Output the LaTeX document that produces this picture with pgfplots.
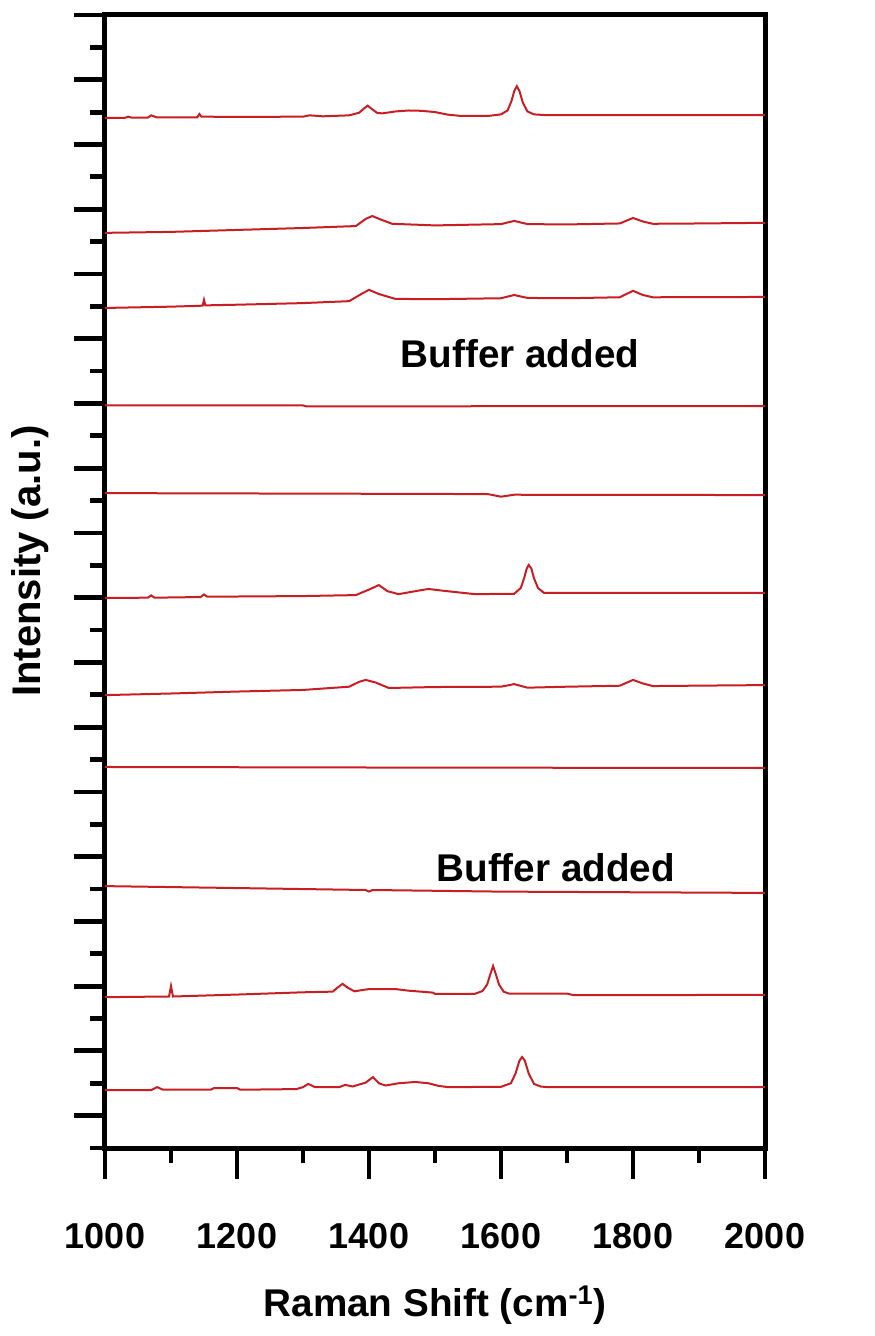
\documentclass[border=0pt]{standalone}
\usepackage{pgfplots}
\pgfplotsset{compat=1.18}
\usepackage{fontspec}
\setmainfont{Liberation Sans}
\definecolor{spec}{RGB}{200,30,35}
\begin{document}
\begin{tikzpicture}[x=1pt,y=1pt]
\path (-78.75,-141) rectangle (577.5,861);
\begin{axis}[
 at={(0,0)}, anchor=south west,
 scale only axis, width=495pt, height=849.75pt,
 xmin=1000,xmax=2000,ymin=0,ymax=35,
 xtick={1000,1200,...,2000}, minor xtick={1100,1300,...,1900},
 ytick={1,3,...,35}, minor ytick={0,2,...,34}, yticklabels={},
 tick pos=left, tick align=outside,
 major tick length=23pt, minor tick length=11pt,
 every tick/.style={black, line width=3.6pt},
 axis line style={line width=3.75pt, line cap=rect},
 /pgf/number format/assume math mode=true,
 /pgf/number format/1000 sep={},
 xticklabel style={font=\bfseries\fontsize{27}{32}\selectfont, yshift=-30pt},
 xlabel={Raman Shift (cm\textsuperscript{-1})},
 ylabel={Intensity (a.u.)},
 every axis x label/.style={at={(axis description cs:0.5,-0.139)}, anchor=center, font=\bfseries\fontsize{29}{34}\selectfont},
 every axis y label/.style={at={(axis description cs:-0.113,0.518)}, anchor=center, rotate=90, font=\bfseries\fontsize{30}{35}\selectfont},
 clip=true,
]
% 240 min
\addplot[spec, line width=1.5pt] coordinates {
(1000,31.82)(1030,31.82)(1035,31.86)(1040,31.83)(1065,31.83)(1070,31.9)(1078,31.84)(1140,31.84)(1143,31.94)(1146,31.86)(1200,31.85)(1300,31.86)(1310,31.9)(1330,31.87)(1370,31.9)(1385,31.98)(1393,32.12)(1398,32.2)(1404,32.1)(1412,31.98)(1420,31.96)(1440,32.02)(1460,32.05)(1480,32.04)(1500,32.0)(1520,31.92)(1540,31.88)(1580,31.88)(1600,31.93)(1610,32.05)(1616,32.35)(1620,32.65)(1624,32.8)(1628,32.65)(1633,32.3)(1640,32.02)(1650,31.93)(1665,31.91)(2000,31.91)};
% 220 min
\addplot[spec, line width=1.5pt] coordinates {
(1000,28.27)(1100,28.3)(1200,28.36)(1300,28.42)(1380,28.48)(1395,28.7)(1405,28.79)(1418,28.68)(1435,28.55)(1500,28.5)(1600,28.54)(1620,28.64)(1640,28.54)(1700,28.53)(1780,28.56)(1800,28.73)(1815,28.62)(1830,28.55)(1900,28.56)(2000,28.58)};
% 200 min
\addplot[spec, line width=1.5pt] coordinates {
(1000,25.95)(1100,25.99)(1148,26.02)(1150,26.2)(1152,26.03)(1200,26.05)(1300,26.1)(1370,26.16)(1390,26.4)(1400,26.51)(1415,26.38)(1440,26.23)(1500,26.22)(1600,26.25)(1620,26.35)(1640,26.26)(1700,26.25)(1780,26.28)(1800,26.48)(1815,26.35)(1830,26.28)(2000,26.29)};
% 180 min
\addplot[spec, line width=1.5pt] coordinates {
(1000,22.94)(1300,22.94)(1305,22.91)(2000,22.92)};
% 160 min
\addplot[spec, line width=1.5pt] coordinates {
(1000,20.23)(1400,20.21)(1580,20.2)(1600,20.12)(1620,20.18)(2000,20.17)};
% 140 min
\addplot[spec, line width=1.5pt] coordinates {
(1000,16.99)(1065,17.0)(1070,17.07)(1075,17.0)(1145,17.02)(1150,17.1)(1155,17.03)(1300,17.05)(1380,17.08)(1400,17.25)(1415,17.39)(1428,17.2)(1445,17.11)(1470,17.2)(1490,17.27)(1510,17.22)(1560,17.11)(1620,17.12)(1630,17.3)(1635,17.6)(1639,17.9)(1642,18.01)(1646,17.9)(1650,17.6)(1656,17.3)(1665,17.15)(2000,17.15)};
% 120 min
\addplot[spec, line width=1.5pt] coordinates {
(1000,13.99)(1100,14.04)(1200,14.1)(1300,14.15)(1370,14.25)(1385,14.4)(1395,14.46)(1410,14.38)(1430,14.21)(1500,14.24)(1600,14.25)(1620,14.33)(1640,14.22)(1700,14.25)(1780,14.28)(1800,14.46)(1815,14.35)(1830,14.27)(2000,14.3)};
% 110 min
\addplot[spec, line width=1.5pt] coordinates {
(1000,11.77)(1500,11.75)(2000,11.74)};
% 100 min
\addplot[spec, line width=1.5pt] coordinates {
(1000,8.09)(1200,8.03)(1395,7.97)(1400,7.92)(1405,7.97)(1600,7.92)(2000,7.88)};
% 40 min
\addplot[spec, line width=1.5pt] coordinates {
(1000,4.66)(1097,4.68)(1100,5.0)(1103,4.68)(1200,4.74)(1300,4.81)(1345,4.83)(1352,4.95)(1360,5.07)(1368,4.95)(1378,4.84)(1390,4.88)(1400,4.91)(1440,4.91)(1460,4.86)(1497,4.8)(1500,4.76)(1560,4.76)(1572,4.85)(1579,5.05)(1584,5.38)(1588,5.62)(1592,5.38)(1597,5.05)(1604,4.83)(1612,4.77)(1700,4.77)(1710,4.72)(2000,4.73)};
% 5 min
\addplot[spec, line width=1.5pt] coordinates {
(1000,1.79)(1070,1.79)(1079,1.88)(1088,1.8)(1160,1.8)(1165,1.85)(1200,1.85)(1205,1.8)(1290,1.82)(1300,1.88)(1308,1.98)(1318,1.88)(1355,1.88)(1364,1.95)(1375,1.9)(1395,2.02)(1406,2.19)(1415,2.0)(1425,1.93)(1445,2.0)(1470,2.04)(1490,2.0)(1505,1.92)(1520,1.88)(1600,1.89)(1615,2.0)(1622,2.3)(1628,2.7)(1632,2.81)(1636,2.7)(1642,2.3)(1650,1.98)(1660,1.9)(1670,1.88)(2000,1.88)};
\begin{scope}[every node/.style={anchor=west, inner sep=0pt, font=\bfseries\fontsize{17}{20}\selectfont}]
\node at (axis cs:2000,31.88) [xshift=4.5pt] {240 min};
\node at (axis cs:2000,28.58) [xshift=4.5pt] {220 min};
\node at (axis cs:2000,26.26) [xshift=4.5pt] {200 min};
\node at (axis cs:2000,22.89) [xshift=4.5pt] {180 min};
\node at (axis cs:2000,20.1) [xshift=4.5pt] {160 min};
\node at (axis cs:2000,17.3) [xshift=4.5pt] {140 min};
\node at (axis cs:2000,14.24) [xshift=4.5pt] {120 min};
\node at (axis cs:2000,11.6) [xshift=4.5pt] {110 min};
\node at (axis cs:2000,7.88) [xshift=4.5pt] {100 min};
\node at (axis cs:2000,4.63) [xshift=4.5pt] {40 min};
\node at (axis cs:2000,1.85) [xshift=10.5pt] {5 min};
\end{scope}
\node[font=\bfseries\fontsize{29}{34}\selectfont, inner sep=0pt] at (axis cs:1629,24.55) {Buffer added};
\node[font=\bfseries\fontsize{29}{34}\selectfont, inner sep=0pt] at (axis cs:1683,8.65) {Buffer added};
\end{axis}
\end{tikzpicture}
\end{document}
